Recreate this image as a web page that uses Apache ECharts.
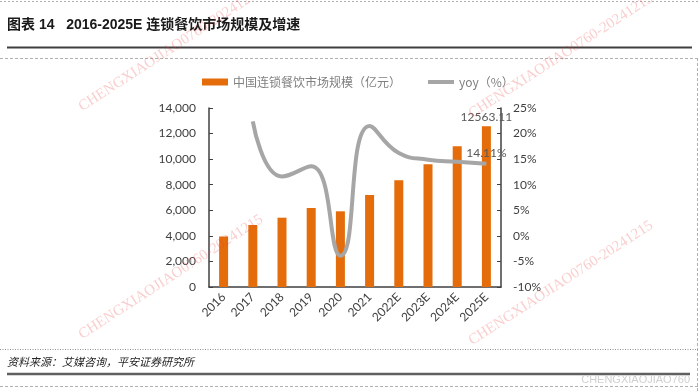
<!DOCTYPE html>
<html>
<head>
<meta charset="utf-8">
<script src="https://cdn.jsdelivr.net/npm/echarts@6/dist/echarts.min.js"></script>
<style>
html,body{margin:0;padding:0;background:#fff;}
#c{width:700px;height:391px;}
</style>
</head>
<body>
<div id="c"></div>
<script>
var categories = ['2016','2017','2018','2019','2020','2021','2022E','2023E','2024E','2025E'];
var marketSize = [3950, 4850, 5420, 6180, 5920, 7200, 8350, 9600, 11010, 12563.11];
var yoy = [null, 22.4, 11.6, 13.6, -3.9, 21.5, 16.2, 14.9, 14.5, 14.11];
var leftTicks = {min: 0, max: 14000, interval: 2000};
var rightTicks = {min: -10, max: 25, interval: 5};
var barName = '中国连锁餐饮市场规模（亿元）';
var lineName = 'yoy（%）';
var titleText = '图表 14   2016-2025E 连锁餐饮市场规模及增速';
var sourceText = '资料来源：艾媒咨询，平安证券研究所';
var watermark = 'CHENGXIAOJIAO0760-20241215';

var chart = echarts.init(document.getElementById('c'), null, {renderer: 'canvas'});
var axisFont = 'Lato, "Liberation Sans", sans-serif';
var cjk = '"Noto Sans CJK SC", sans-serif';
var wmRot = 33 * Math.PI / 180;
function wm(x, y) {
  return {type: 'text', x: x, y: y, rotation: wmRot, z: 100, silent: true,
    style: {text: watermark, fill: 'rgba(235,60,60,0.26)', font: '15px "Liberation Serif", "DejaVu Serif", serif', textAlign: 'left', textVerticalAlign: 'middle'}};
}

chart.setOption({
  animation: false,
  backgroundColor: '#fff',
  grid: {left: 209, right: 199, top: 108, bottom: 104, containLabel: false},
  legend: {
    left: 197, top: 71, itemWidth: 26, itemHeight: 7, itemGap: 27,
    textStyle: {color: '#7f7f7f', fontSize: 12, fontFamily: cjk},
    data: [
      {name: barName, icon: 'rect'},
      {name: lineName, icon: 'path://M0,0L0.01,0Z M0,1.5H26V5.5H0Z M0,7L0.01,7Z', itemStyle: {color: '#A6A6A6'}}
    ]
  },
  xAxis: {
    type: 'category', data: categories,
    axisLine: {lineStyle: {color: '#404040', width: 1.5}},
    axisTick: {inside: true, alignWithLabel: true, length: 4, lineStyle: {color: '#404040'}},
    axisLabel: {rotate: 45, color: '#404040', fontSize: 12, fontFamily: axisFont, margin: 8}
  },
  yAxis: [
    {type: 'value', min: leftTicks.min, max: leftTicks.max, interval: leftTicks.interval,
     splitLine: {show: false},
     axisLine: {show: true, lineStyle: {color: '#404040', width: 1.5}},
     axisTick: {show: true, inside: true, length: 4, lineStyle: {color: '#404040'}},
     axisLabel: {color: '#404040', fontSize: 12, fontFamily: axisFont, margin: 13,
       formatter: function (v) { return v.toLocaleString('en-US'); }}},
    {type: 'value', min: rightTicks.min, max: rightTicks.max, interval: rightTicks.interval,
     splitLine: {show: false},
     axisLine: {show: true, lineStyle: {color: '#404040', width: 1.5}},
     axisTick: {show: true, inside: true, length: 4, lineStyle: {color: '#404040'}},
     axisLabel: {color: '#404040', fontSize: 12, fontFamily: axisFont, margin: 12, formatter: '{value}%'}}
  ],
  series: [
    {name: barName, type: 'bar', yAxisIndex: 0, barWidth: 9,
     itemStyle: {color: '#E46C0A'},
     data: marketSize.map(function (v, i) {
       return i === marketSize.length - 1 ?
         {value: v, label: {show: true, position: 'top', distance: 3, color: '#595959', fontSize: 12, fontFamily: axisFont, formatter: '12563.11'}} : v;
     })},
    {name: lineName, type: 'line', yAxisIndex: 1, smooth: 0.5, symbol: 'circle', symbolSize: 0.01, showSymbol: true, z: 5,
     lineStyle: {color: '#A6A6A6', width: 4}, itemStyle: {color: '#A6A6A6'},
     labelLayout: {hideOverlap: false},
     data: yoy.map(function (v, i) {
       return i === yoy.length - 1 ?
         {value: v, label: {show: true, position: 'top', offset: [18, -4], color: '#595959', fontSize: 12, fontFamily: axisFont, formatter: '14.11%'}} : v;
     })}
  ],
  graphic: [
    {type: 'line', shape: {x1: 0, y1: 1.5, x2: 700, y2: 1.5}, style: {stroke: '#b0b0b0', lineWidth: 1, lineDash: [2, 2]}},
    {type: 'text', x: 7, y: 25, style: {text: titleText, font: 'bold 14px "Liberation Sans", "Noto Sans CJK SC", sans-serif', fill: '#1a1a1a', textVerticalAlign: 'middle'}},
    {type: 'line', shape: {x1: 7, y1: 47.5, x2: 692, y2: 47.5}, style: {stroke: '#404040', lineWidth: 2}},
    {type: 'line', shape: {x1: 0, y1: 58.5, x2: 698, y2: 58.5}, style: {stroke: '#b0b0b0', lineWidth: 1, lineDash: [3, 2]}},
    {type: 'line', shape: {x1: 697.5, y1: 58, x2: 697.5, y2: 391}, style: {stroke: '#b0b0b0', lineWidth: 1, lineDash: [3, 2]}},
    {type: 'line', shape: {x1: 0, y1: 349.5, x2: 698, y2: 349.5}, style: {stroke: '#909090', lineWidth: 1, lineDash: [1, 1.5]}},
    {type: 'text', x: 7, y: 362, style: {text: sourceText, font: 'italic 11px "Noto Sans CJK SC", sans-serif', fill: '#262626', textVerticalAlign: 'middle'}},
    {type: 'line', shape: {x1: 7, y1: 374, x2: 690, y2: 374}, style: {stroke: '#606060', lineWidth: 2.5}},
    {type: 'line', shape: {x1: 0, y1: 386.5, x2: 698, y2: 386.5}, style: {stroke: '#b0b0b0', lineWidth: 1, lineDash: [3, 2]}},
    {type: 'text', x: 690, y: 380, style: {text: 'CHENGXIAOJIAO760', font: '11px "Liberation Sans", sans-serif', fill: '#d0d0d0', textAlign: 'right', textVerticalAlign: 'middle'}},
    wm(80, 108), wm(470, 115), wm(80, 336), wm(470, 342)
  ]
});
</script>
</body>
</html>
